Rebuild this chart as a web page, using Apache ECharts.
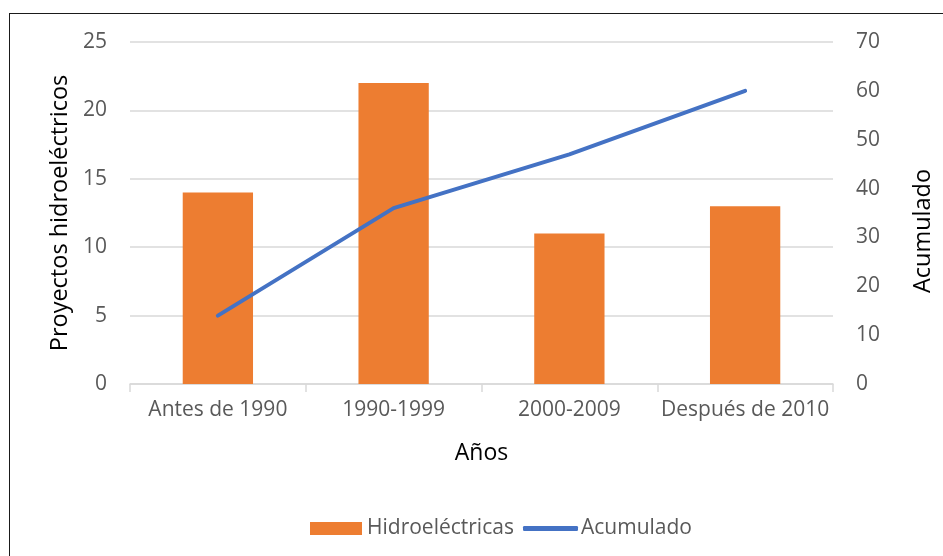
<!DOCTYPE html>
<html>
<head>
<meta charset="utf-8">
<script src="https://cdn.jsdelivr.net/npm/echarts@6/dist/echarts.min.js"></script>
<style>
html,body{margin:0;padding:0;background:#fff;}
#frame{position:absolute;left:9px;top:13px;width:940px;height:550px;border:1.5px solid #1a1a1a;box-sizing:border-box;}
#c{position:absolute;left:0;top:0;width:943px;height:556px;}
</style>
</head>
<body>
<div id="frame"></div>
<div id="c"></div>
<script>
const categories = ['Antes de 1990', '1990-1999', '2000-2009', 'Después de 2010'];
const hidroelectricas = [14, 22, 11, 13];
const acumulado = [14, 36, 47, 60];

const FONT = '"Open Sans", sans-serif';
const chart = echarts.init(document.getElementById('c'), null, {renderer: 'canvas'});
chart.setOption({
  backgroundColor: 'transparent',
  animation: false,
  textStyle: {fontFamily: FONT},
  grid: {left: 130, right: 108, top: 42, bottom: 172, containLabel: false},
  legend: [
    {
      left: 305, top: 513,
      itemWidth: 52, itemHeight: 13, itemGap: 0,
      textStyle: {fontFamily: FONT, fontSize: 21, color: '#595959'},
      data: [{name: 'Hidroeléctricas', icon: 'rect'}]
    },
    {
      left: 518, top: 513,
      itemWidth: 55, itemHeight: 5,
      textStyle: {fontFamily: FONT, fontSize: 21, color: '#595959', padding: [0, 0, 0, -2]},
      data: [{name: 'Acumulado', icon: 'roundRect'}]
    }
  ],
  xAxis: {
    type: 'category',
    data: categories,
    name: 'Años',
    nameLocation: 'middle',
    nameGap: 58,
    nameTextStyle: {fontFamily: FONT, fontSize: 23, color: '#000'},
    axisLine: {lineStyle: {color: '#d9d9d9', width: 1.5}},
    axisTick: {show: true, length: 8, lineStyle: {color: '#d9d9d9', width: 1.5}},
    axisLabel: {fontFamily: FONT, fontSize: 21, color: '#595959', margin: 16, interval: 0}
  },
  yAxis: [
    {
      type: 'value', min: 0, max: 25, interval: 5,
      name: 'Proyectos hidroeléctricos',
      nameLocation: 'middle', nameRotate: 90, nameGap: 54,
      nameTextStyle: {fontFamily: FONT, fontSize: 23.5, color: '#000'},
      axisLine: {show: false}, axisTick: {show: false},
      axisLabel: {fontFamily: FONT, fontSize: 21, color: '#595959', margin: 23},
      splitLine: {lineStyle: {color: '#d9d9d9', width: 1.5}}
    },
    {
      type: 'value', min: 0, max: 70, interval: 10,
      name: 'Acumulado',
      nameLocation: 'middle', nameRotate: 90, nameGap: 78,
      nameTextStyle: {fontFamily: FONT, fontSize: 23.5, color: '#000', padding: [0, 36, 0, 0]},
      axisLine: {show: false}, axisTick: {show: false},
      axisLabel: {fontFamily: FONT, fontSize: 21, color: '#595959', margin: 23},
      splitLine: {show: false}
    }
  ],
  series: [
    {
      name: 'Hidroeléctricas', type: 'bar', data: hidroelectricas,
      yAxisIndex: 0, barWidth: '40%',
      itemStyle: {color: '#ED7D31'}
    },
    {
      name: 'Acumulado', type: 'line', data: acumulado,
      yAxisIndex: 1, showSymbol: false, symbol: 'none',
      lineStyle: {color: '#4472C4', width: 4, cap: 'round'},
      itemStyle: {color: '#4472C4'}
    }
  ]
});
</script>
</body>
</html>
